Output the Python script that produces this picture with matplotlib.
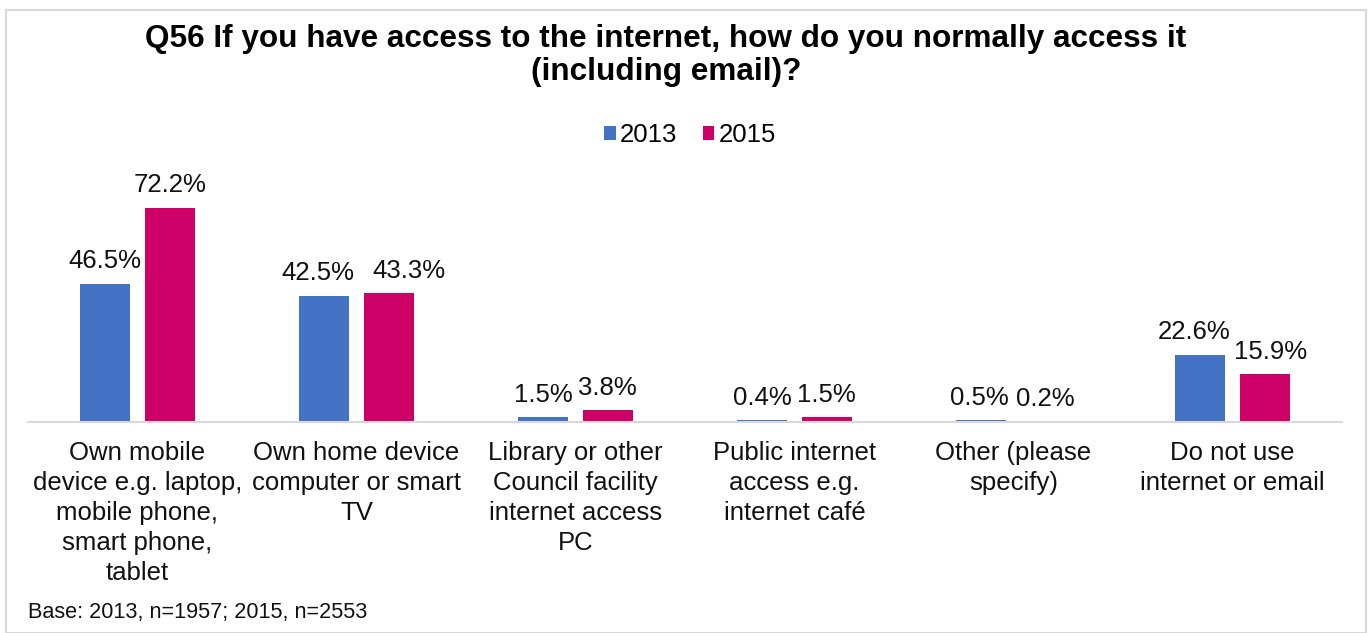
import matplotlib.pyplot as plt
from matplotlib.patches import Rectangle
import numpy as np

plt.rcParams['font.family'] = ['Liberation Sans', 'DejaVu Sans']

categories = [
    'Own mobile\ndevice e.g. laptop,\nmobile phone,\nsmart phone,\ntablet',
    'Own home device\ncomputer or smart\nTV',
    'Library or other\nCouncil facility\ninternet access\nPC',
    'Public internet\naccess e.g.\ninternet café',
    'Other (please\nspecify)',
    'Do not use\ninternet or email',
]
vals_2013 = [46.5, 42.5, 1.5, 0.4, 0.5, 22.6]
vals_2015 = [72.2, 43.3, 3.8, 1.5, 0.2, 15.9]
years = ['2013', '2015']
colors = ['#4472C4', '#CC0066']

W, H = 1371, 633
fig = plt.figure(figsize=(W / 100, H / 100), dpi=100)

# outer border of the chart
fig.patches.append(Rectangle((6 / W, 0), 1360 / W, 1 - 10 / H, transform=fig.transFigure,
                             fill=False, edgecolor='#D9D9D9', linewidth=1.5))

ax = fig.add_axes([28 / W, 211.5 / H, 1314 / W, 237 / H])
x = np.arange(len(categories))
bw = 0.23
off = 0.147
b1 = ax.bar(x - off, vals_2013, bw, color=colors[0], label=years[0])
b2 = ax.bar(x + off, vals_2015, bw, color=colors[1], label=years[1])

# Excel nudges labels apart where they would collide
nudge_2013 = [0, -6, 0, 0, -2, -6]
nudge_2015 = [0, 20, 0, 0, 0, 6]
for bars, vals, nudge in [(b1, vals_2013, nudge_2013), (b2, vals_2015, nudge_2015)]:
    for r, v, n in zip(bars, vals, nudge):
        ax.annotate(f'{v:.1f}%', (r.get_x() + r.get_width() / 2, v),
                    xytext=(n * 0.72, 11), textcoords='offset points',
                    ha='center', va='baseline', fontsize=18.5, color='#111111')

ax.set_xlim(-0.5, len(categories) - 0.5)
ax.set_ylim(0, 80)
ax.set_xticks(x)
ax.set_xticklabels(categories, fontsize=18.5, linespacing=1.32, color='#111111')
ax.tick_params(axis='x', length=0, pad=14)
ax.set_yticks([])
for s in ['top', 'right', 'left']:
    ax.spines[s].set_visible(False)
ax.spines['bottom'].set_color('#D9D9D9')
ax.spines['bottom'].set_linewidth(1.5)

fig.text(666 / W, 1 - 47 / H, 'Q56 If you have access to the internet, how do you normally access it',
         ha='center', va='baseline', fontsize=22.7, fontweight='bold')
fig.text(666 / W, 1 - 80 / H, '(including email)?',
         ha='center', va='baseline', fontsize=22.7, fontweight='bold')

fig.legend(loc='center', bbox_to_anchor=(690 / W, 1 - 135 / H), ncol=2, frameon=False,
           fontsize=18.5, handlelength=0.45, handleheight=0.45, handletextpad=0.15,
           columnspacing=1.0)

fig.text(28 / W, 1 - 618 / H, 'Base: 2013, n=1957; 2015, n=2553',
         ha='left', va='baseline', fontsize=15.6, color='#111111')

fig.savefig('out.png', dpi=100)
